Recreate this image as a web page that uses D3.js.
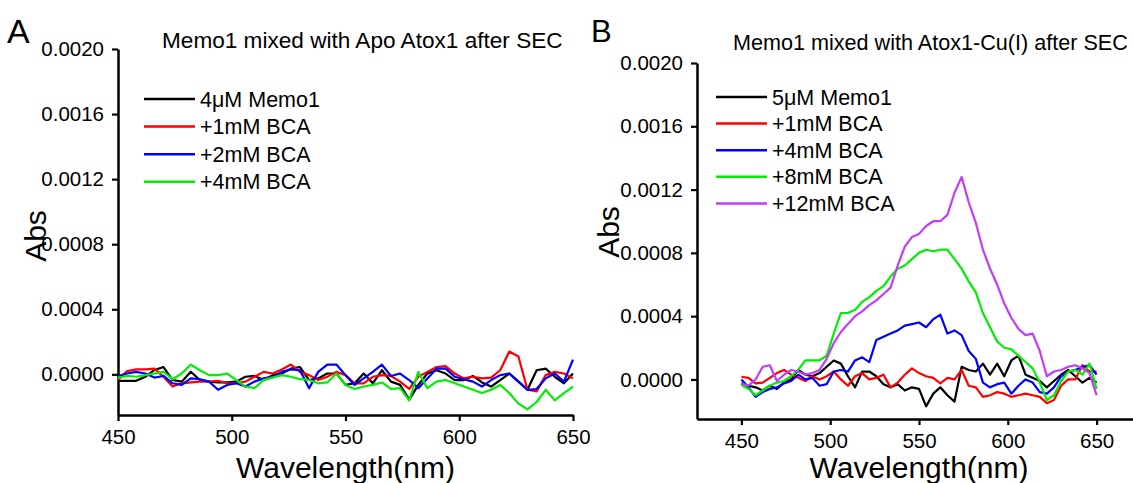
<!DOCTYPE html>
<html>
<head>
<meta charset="utf-8">
<script src="https://cdn.jsdelivr.net/npm/d3@7"></script>
<style>
  html, body { margin: 0; padding: 0; background: #ffffff; }
  svg { display: block; }
  text { font-family: "Liberation Sans", Arial, Helvetica, sans-serif; fill: #000; }
</style>
</head>
<body>
<svg id="chart" width="1133" height="483"></svg>
<script>
// ---------- DATA ----------
const wavelengths = [450,454,458,462,466,470,474,478,482,486,490,494,498,502,506,510,514,518,522,526,530,534,538,542,546,550,554,558,562,566,570,574,578,582,586,590,594,598,602,606,610,614,618,622,626,630,634,638,642,646,650];

// Panel A: Memo1 mixed with Apo Atox1 after SEC (Abs)
const aMemo1 = [-0.00004,-0.00004,-0.00004,-0.000015,0.000027,0.000045,-0.000035,-0.000045,0.000016,-0.000035,-0.000045,-0.00005,-0.00005,-0.000045,-0.000015,-0.00001,-0.000035,-0.000005,0.000005,0.000035,0.000045,-0.000035,-0.000025,0.000005,0.000005,-0.000065,-0.000055,0.000005,-0.000055,0.000025,-0.000045,-0.000065,-0.000155,-0.000065,0.000005,0.000025,0.000005,-0.000035,-0.000035,-0.00001,-0.00005,-0.000075,-0.000035,0.000005,-0.000045,-0.000095,0.000025,0.000035,-0.000015,-0.000055,0.000005];
const aBCA1 = [-0.000035,0.00002,0.00003,0.00003,0.000035,-0.000015,-0.000075,-0.000055,-0.00005,-0.000045,-0.000045,-0.00004,-0.000055,-0.000055,-0.000045,-0.000015,0.000015,0.000005,0.00003,0.00006,0.000015,-0.000005,-0.000035,-0.000015,0.000015,-0.000005,-0.000055,-0.000055,-0.000015,-0.000005,-0.00001,-0.000045,-0.00009,-0.000015,0.000015,0.000045,0.00005,0.000005,-0.000025,-0.000015,-0.000025,-0.00002,0.000025,0.00014,0.00011,-0.000095,-0.000105,-0.000005,0.000015,0.000005,-0.000025];
const aBCA2 = [-0.00001,0.000005,0.000015,0.000005,-0.00002,-0.00001,-0.000055,-0.000065,-0.000025,-0.00003,-0.000045,-0.000095,-0.000065,-0.000055,-0.000075,-0.000045,-0.000025,-0.000015,0.000015,0.00003,0.000025,-0.000085,0.000015,0.00006,0.00006,-0.000005,-0.000065,-0.000025,0.000015,0.00006,-0.00001,0.000005,-0.000035,-0.000085,-0.000025,0.000035,0.000035,-0.000015,-0.00003,-0.000045,-0.000075,-0.000035,-0.000005,0.000005,-0.000045,-0.000095,-0.00009,-0.000025,0.000005,-0.000045,0.00009];
const aBCA4 = [-0.00002,-0.00001,-0.000015,-0.000005,0.000005,0.000015,-0.00003,0.000005,0.00006,0.000025,-0.000005,-0.000005,0.000005,-0.000035,-0.000075,-0.000085,-0.000035,-0.00002,-0.000005,-0.000015,-0.00003,-0.000035,-0.000055,-0.00005,0.000005,-0.000065,-0.00009,-0.000075,-0.000065,-0.00005,-0.00009,-0.000085,-0.00016,0.000015,-0.000085,-0.000045,-0.000035,-0.000055,-0.000075,-0.000095,-0.000115,-0.000095,-0.000065,-0.000115,-0.00018,-0.000215,-0.00017,-0.000095,-0.00016,-0.000115,-0.000075];

// Panel B: Memo1 mixed with Atox1-Cu(I) after SEC (Abs)
const bMemo1 = [-0.000025,-0.00004,-0.00005,-0.00007,-0.00004,-0.00006,-0.00002,0,0.00006,0.00003,0.00002,0.00004,0.00008,0.00012,0.0001,0.00002,-0.00005,0.00005,0.00005,0.00002,-0.00003,-0.00005,-0.00003,-0.00007,-0.00005,-0.00006,-0.00017,-0.00009,-0.00005,-0.0001,-0.00014,0.00008,0.00006,0.00005,0.0001,0.00003,0.0001,0.00002,0.00012,0.00015,0.00003,0.00001,-0.00001,-0.00005,-0.00001,0.00003,0.00006,0.00002,-0.00002,0.00001,-0.00002];
const bBCA1 = [0.000017,0.00001,-0.000025,-0.00002,0.00001,0.00004,0.00006,0.00003,0.00001,-0.00001,0.00002,0,0.00002,0.00005,0,-0.00004,0.00002,0.00004,0,0.00001,0.00003,-0.00005,-0.00002,0.00003,0.00007,0.00004,0.00002,0.00001,-0.000025,0.00001,0,0.00006,-0.00004,-0.00005,-0.00011,-0.0001,-0.00008,-0.00009,-0.00011,-0.0001,-0.00009,-0.0001,-0.00011,-0.00015,-0.00013,-0.00004,0,0,0.00009,0.00005,0.00005];
const bBCA4 = [0,-0.00005,-0.00011,-0.00008,-0.00006,-0.00005,-0.000025,-0.00001,0.00003,0,0.00001,-0.00004,-0.00003,0.00005,0.00006,0.00005,0.00012,0.00014,0.00011,0.00025,0.00027,0.00029,0.00031,0.00034,0.00035,0.00036,0.00033,0.00038,0.00041,0.00029,0.00031,0.00028,0.00018,0.00013,-0.00002,-0.00005,-0.00003,-0.00002,-0.00009,-0.00004,0,-0.00002,-0.00008,-0.00009,-0.00005,0.00002,0.00005,0.00006,0.00008,0.00009,0.00003];
const bBCA8 = [-0.000036,-0.00006,-0.0001,-0.00007,-0.00004,-0.00002,-0.00001,0.00002,0.00006,0.00012,0.00012,0.00012,0.00015,0.00029,0.00042,0.00042,0.00044,0.00049,0.00052,0.00056,0.00059,0.00065,0.0007,0.00072,0.00076,0.0008,0.00082,0.00081,0.00082,0.00082,0.00076,0.0007,0.00062,0.00055,0.00042,0.00033,0.00024,0.0002,0.00019,0.00015,0.00011,0.00007,-0.00002,-0.00013,-0.0001,-0.00001,0.00005,0.00006,0.00003,0.0001,-0.00006];
const bBCA12 = [-0.000025,-0.00004,0,0.00008,0.00009,-0.00001,0.00003,0.00006,0.00005,0.00003,0.00004,0.00006,0.00013,0.00023,0.0003,0.00035,0.0004,0.00043,0.00047,0.0005,0.00054,0.00058,0.00072,0.00084,0.0009,0.00092,0.00097,0.001,0.001,0.00104,0.00118,0.00128,0.00112,0.00099,0.00082,0.0007,0.0006,0.00048,0.00039,0.00032,0.00028,0.00029,0.00018,0.00002,0.00005,0.00006,0.00008,0.00009,0.00007,0.00004,-0.0001];

const labelsA = ["4\u03bcM Memo1", "+1mM BCA", "+2mM BCA", "+4mM BCA"];
const labelsB = ["5\u03bcM Memo1", "+1mM BCA", "+4mM BCA", "+8mM BCA", "+12mM BCA"];
const colorsA = ["#000000", "#ff0000", "#0000ff", "#00ee00"];
const colorsB = ["#000000", "#ff0000", "#0000ff", "#00ee00", "#c13cff"];
const yTicks = [0, 0.0004, 0.0008, 0.0012, 0.0016, 0.0020];
const xTicks = [450, 500, 550, 600, 650];
const titleA = "Memo1 mixed with Apo Atox1 after SEC";
const titleB = "Memo1 mixed with Atox1-Cu(I) after SEC";

// ---------- DRAW ----------
const svg = d3.select("#chart");
const fmt = d3.format(".4f");

function panel(cfg) {
  const g = svg.append("g");
  const x = d3.scaleLinear().domain(cfg.xDomain).range(cfg.xRange);
  const y = d3.scaleLinear().domain([-0.00025, 0.0020]).range(cfg.yRange);

  // axes
  const ya = g.append("g").attr("transform", `translate(${cfg.xRange[0]},0)`)
    .call(d3.axisLeft(y).tickValues(yTicks).tickFormat(fmt).tickSize(6).tickSizeOuter(0).tickPadding(8));
  const xa = g.append("g").attr("transform", `translate(0,${cfg.yRange[0]})`)
    .call(d3.axisBottom(x).tickValues(xTicks).tickFormat(d3.format("d")).tickSize(6).tickSizeOuter(0).tickPadding(8));
  [ya, xa].forEach(a => {
    a.select(".domain").attr("stroke", "#000").attr("stroke-width", 2.5);
    a.selectAll(".tick line").attr("stroke", "#000").attr("stroke-width", 2.2);
    a.selectAll(".tick text").attr("font-size", 20.5).attr("font-family", "Liberation Sans, Arial, sans-serif").attr("fill", "#000");
  });

  // lines
  const line = d3.line().x((d, i) => x(wavelengths[i])).y(d => y(d));
  cfg.series.forEach((s, i) => {
    g.append("path").datum(s).attr("d", line)
      .attr("fill", "none").attr("stroke", cfg.colors[i]).attr("stroke-width", 2.2)
      .attr("stroke-linejoin", "round");
  });

  // legend
  cfg.labels.forEach((lab, i) => {
    const ly = cfg.legY + i * cfg.legStep;
    g.append("line").attr("x1", cfg.legX).attr("x2", cfg.legX + 51)
      .attr("y1", ly).attr("y2", ly).attr("stroke", cfg.colors[i]).attr("stroke-width", 2.5);
    g.append("text").attr("x", cfg.legX + 56).attr("y", ly + 7.5)
      .attr("font-size", 21.5).text(lab);
  });

  // titles
  g.append("text").attr("x", cfg.titleX).attr("y", cfg.titleY).attr("font-size", cfg.titleSize).text(cfg.title);
  g.append("text").attr("x", x(550)).attr("y", 478).attr("text-anchor", "middle")
    .attr("font-size", 30).text("Wavelength(nm)");
  g.append("text").attr("transform", `translate(${cfg.absX},${cfg.absY}) rotate(-90)`)
    .attr("text-anchor", "middle").attr("font-size", 30).text("Abs");
  g.append("text").attr("x", cfg.letterX).attr("y", cfg.letterY).attr("font-size", cfg.letterSize).text(cfg.letter);
}

panel({
  xDomain: [450, 650], xRange: [118, 573], yRange: [415, 49],
  series: [aMemo1, aBCA1, aBCA2, aBCA4], colors: colorsA, labels: labelsA,
  legX: 144, legY: 99, legStep: 27.6,
  title: titleA, titleX: 162, titleY: 48, titleSize: 22.6,
  absX: 46, absY: 236, letter: "A", letterX: 7, letterY: 43, letterSize: 34
});
panel({
  xDomain: [425, 675], xRange: [697, 1141], yRange: [419, 63],
  series: [bMemo1, bBCA1, bBCA4, bBCA8, bBCA12], colors: colorsB, labels: labelsB,
  legX: 716, legY: 97, legStep: 26.6,
  title: titleB, titleX: 733, titleY: 50, titleSize: 21.6,
  absX: 619, absY: 232, letter: "B", letterX: 591, letterY: 42, letterSize: 31
});
</script>
</body>
</html>
